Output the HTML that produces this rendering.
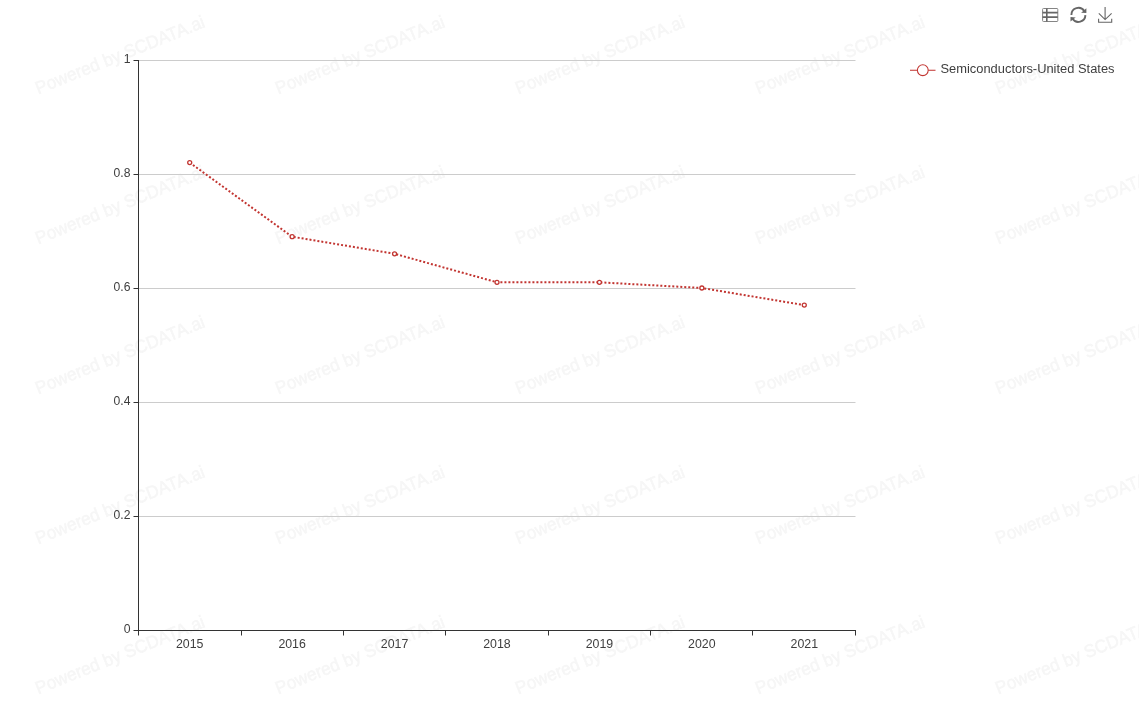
<!DOCTYPE html>
<html><head><meta charset="utf-8"><title>chart</title>
<style>
html,body{margin:0;padding:0;background:#fff;overflow:hidden}
body{width:1139px;height:710px;font-family:"Liberation Sans",sans-serif}
svg{display:block;font-family:"Liberation Sans",sans-serif}
</style></head><body>
<svg width="1139" height="710" viewBox="0 0 1139 710">
<rect width="1139" height="710" fill="#fff"/>
<g id="wm" text-anchor="middle" font-size="18" fill="#f6f6f6" stroke="#f6f6f6" stroke-width="0.55" opacity="0.99"><text transform="translate(-117.8,-89.5) rotate(-22)" textLength="181" lengthAdjust="spacingAndGlyphs">Powered by SCDATA.ai</text><text transform="translate(122.2,-89.5) rotate(-22)" textLength="181" lengthAdjust="spacingAndGlyphs">Powered by SCDATA.ai</text><text transform="translate(362.2,-89.5) rotate(-22)" textLength="181" lengthAdjust="spacingAndGlyphs">Powered by SCDATA.ai</text><text transform="translate(602.2,-89.5) rotate(-22)" textLength="181" lengthAdjust="spacingAndGlyphs">Powered by SCDATA.ai</text><text transform="translate(842.2,-89.5) rotate(-22)" textLength="181" lengthAdjust="spacingAndGlyphs">Powered by SCDATA.ai</text><text transform="translate(1082.2,-89.5) rotate(-22)" textLength="181" lengthAdjust="spacingAndGlyphs">Powered by SCDATA.ai</text><text transform="translate(1322.2,-89.5) rotate(-22)" textLength="181" lengthAdjust="spacingAndGlyphs">Powered by SCDATA.ai</text><text transform="translate(-117.8,60.5) rotate(-22)" textLength="181" lengthAdjust="spacingAndGlyphs">Powered by SCDATA.ai</text><text transform="translate(122.2,60.5) rotate(-22)" textLength="181" lengthAdjust="spacingAndGlyphs">Powered by SCDATA.ai</text><text transform="translate(362.2,60.5) rotate(-22)" textLength="181" lengthAdjust="spacingAndGlyphs">Powered by SCDATA.ai</text><text transform="translate(602.2,60.5) rotate(-22)" textLength="181" lengthAdjust="spacingAndGlyphs">Powered by SCDATA.ai</text><text transform="translate(842.2,60.5) rotate(-22)" textLength="181" lengthAdjust="spacingAndGlyphs">Powered by SCDATA.ai</text><text transform="translate(1082.2,60.5) rotate(-22)" textLength="181" lengthAdjust="spacingAndGlyphs">Powered by SCDATA.ai</text><text transform="translate(1322.2,60.5) rotate(-22)" textLength="181" lengthAdjust="spacingAndGlyphs">Powered by SCDATA.ai</text><text transform="translate(-117.8,210.5) rotate(-22)" textLength="181" lengthAdjust="spacingAndGlyphs">Powered by SCDATA.ai</text><text transform="translate(122.2,210.5) rotate(-22)" textLength="181" lengthAdjust="spacingAndGlyphs">Powered by SCDATA.ai</text><text transform="translate(362.2,210.5) rotate(-22)" textLength="181" lengthAdjust="spacingAndGlyphs">Powered by SCDATA.ai</text><text transform="translate(602.2,210.5) rotate(-22)" textLength="181" lengthAdjust="spacingAndGlyphs">Powered by SCDATA.ai</text><text transform="translate(842.2,210.5) rotate(-22)" textLength="181" lengthAdjust="spacingAndGlyphs">Powered by SCDATA.ai</text><text transform="translate(1082.2,210.5) rotate(-22)" textLength="181" lengthAdjust="spacingAndGlyphs">Powered by SCDATA.ai</text><text transform="translate(1322.2,210.5) rotate(-22)" textLength="181" lengthAdjust="spacingAndGlyphs">Powered by SCDATA.ai</text><text transform="translate(-117.8,360.5) rotate(-22)" textLength="181" lengthAdjust="spacingAndGlyphs">Powered by SCDATA.ai</text><text transform="translate(122.2,360.5) rotate(-22)" textLength="181" lengthAdjust="spacingAndGlyphs">Powered by SCDATA.ai</text><text transform="translate(362.2,360.5) rotate(-22)" textLength="181" lengthAdjust="spacingAndGlyphs">Powered by SCDATA.ai</text><text transform="translate(602.2,360.5) rotate(-22)" textLength="181" lengthAdjust="spacingAndGlyphs">Powered by SCDATA.ai</text><text transform="translate(842.2,360.5) rotate(-22)" textLength="181" lengthAdjust="spacingAndGlyphs">Powered by SCDATA.ai</text><text transform="translate(1082.2,360.5) rotate(-22)" textLength="181" lengthAdjust="spacingAndGlyphs">Powered by SCDATA.ai</text><text transform="translate(1322.2,360.5) rotate(-22)" textLength="181" lengthAdjust="spacingAndGlyphs">Powered by SCDATA.ai</text><text transform="translate(-117.8,510.5) rotate(-22)" textLength="181" lengthAdjust="spacingAndGlyphs">Powered by SCDATA.ai</text><text transform="translate(122.2,510.5) rotate(-22)" textLength="181" lengthAdjust="spacingAndGlyphs">Powered by SCDATA.ai</text><text transform="translate(362.2,510.5) rotate(-22)" textLength="181" lengthAdjust="spacingAndGlyphs">Powered by SCDATA.ai</text><text transform="translate(602.2,510.5) rotate(-22)" textLength="181" lengthAdjust="spacingAndGlyphs">Powered by SCDATA.ai</text><text transform="translate(842.2,510.5) rotate(-22)" textLength="181" lengthAdjust="spacingAndGlyphs">Powered by SCDATA.ai</text><text transform="translate(1082.2,510.5) rotate(-22)" textLength="181" lengthAdjust="spacingAndGlyphs">Powered by SCDATA.ai</text><text transform="translate(1322.2,510.5) rotate(-22)" textLength="181" lengthAdjust="spacingAndGlyphs">Powered by SCDATA.ai</text><text transform="translate(-117.8,660.5) rotate(-22)" textLength="181" lengthAdjust="spacingAndGlyphs">Powered by SCDATA.ai</text><text transform="translate(122.2,660.5) rotate(-22)" textLength="181" lengthAdjust="spacingAndGlyphs">Powered by SCDATA.ai</text><text transform="translate(362.2,660.5) rotate(-22)" textLength="181" lengthAdjust="spacingAndGlyphs">Powered by SCDATA.ai</text><text transform="translate(602.2,660.5) rotate(-22)" textLength="181" lengthAdjust="spacingAndGlyphs">Powered by SCDATA.ai</text><text transform="translate(842.2,660.5) rotate(-22)" textLength="181" lengthAdjust="spacingAndGlyphs">Powered by SCDATA.ai</text><text transform="translate(1082.2,660.5) rotate(-22)" textLength="181" lengthAdjust="spacingAndGlyphs">Powered by SCDATA.ai</text><text transform="translate(1322.2,660.5) rotate(-22)" textLength="181" lengthAdjust="spacingAndGlyphs">Powered by SCDATA.ai</text><text transform="translate(-117.8,810.5) rotate(-22)" textLength="181" lengthAdjust="spacingAndGlyphs">Powered by SCDATA.ai</text><text transform="translate(122.2,810.5) rotate(-22)" textLength="181" lengthAdjust="spacingAndGlyphs">Powered by SCDATA.ai</text><text transform="translate(362.2,810.5) rotate(-22)" textLength="181" lengthAdjust="spacingAndGlyphs">Powered by SCDATA.ai</text><text transform="translate(602.2,810.5) rotate(-22)" textLength="181" lengthAdjust="spacingAndGlyphs">Powered by SCDATA.ai</text><text transform="translate(842.2,810.5) rotate(-22)" textLength="181" lengthAdjust="spacingAndGlyphs">Powered by SCDATA.ai</text><text transform="translate(1082.2,810.5) rotate(-22)" textLength="181" lengthAdjust="spacingAndGlyphs">Powered by SCDATA.ai</text><text transform="translate(1322.2,810.5) rotate(-22)" textLength="181" lengthAdjust="spacingAndGlyphs">Powered by SCDATA.ai</text></g>
<line x1="138.5" y1="516.50" x2="855.5" y2="516.50" stroke="#ccc" stroke-width="1"/>
<line x1="138.5" y1="402.50" x2="855.5" y2="402.50" stroke="#ccc" stroke-width="1"/>
<line x1="138.5" y1="288.50" x2="855.5" y2="288.50" stroke="#ccc" stroke-width="1"/>
<line x1="138.5" y1="174.50" x2="855.5" y2="174.50" stroke="#ccc" stroke-width="1"/>
<line x1="138.5" y1="60.50" x2="855.5" y2="60.50" stroke="#ccc" stroke-width="1"/>
<line x1="138.5" y1="60.0" x2="138.5" y2="631.0" stroke="#333" stroke-width="1"/>
<line x1="138.0" y1="630.5" x2="856.0" y2="630.5" stroke="#333" stroke-width="1"/>
<line x1="133.5" y1="630.50" x2="138.5" y2="630.50" stroke="#333" stroke-width="1"/>
<line x1="133.5" y1="516.50" x2="138.5" y2="516.50" stroke="#333" stroke-width="1"/>
<line x1="133.5" y1="402.50" x2="138.5" y2="402.50" stroke="#333" stroke-width="1"/>
<line x1="133.5" y1="288.50" x2="138.5" y2="288.50" stroke="#333" stroke-width="1"/>
<line x1="133.5" y1="174.50" x2="138.5" y2="174.50" stroke="#333" stroke-width="1"/>
<line x1="133.5" y1="60.50" x2="138.5" y2="60.50" stroke="#333" stroke-width="1"/>
<line x1="138.5" y1="630.5" x2="138.5" y2="635.5" stroke="#333" stroke-width="1"/>
<line x1="241.5" y1="630.5" x2="241.5" y2="635.5" stroke="#333" stroke-width="1"/>
<line x1="343.5" y1="630.5" x2="343.5" y2="635.5" stroke="#333" stroke-width="1"/>
<line x1="445.5" y1="630.5" x2="445.5" y2="635.5" stroke="#333" stroke-width="1"/>
<line x1="548.5" y1="630.5" x2="548.5" y2="635.5" stroke="#333" stroke-width="1"/>
<line x1="650.5" y1="630.5" x2="650.5" y2="635.5" stroke="#333" stroke-width="1"/>
<line x1="752.5" y1="630.5" x2="752.5" y2="635.5" stroke="#333" stroke-width="1"/>
<line x1="855.5" y1="630.5" x2="855.5" y2="635.5" stroke="#333" stroke-width="1"/>
<g id="labels" font-size="13" fill="#3c3c3c" opacity="0.99"><text x="130.5" y="633.40" text-anchor="end" textLength="6.8" lengthAdjust="spacingAndGlyphs">0</text><text x="130.5" y="519.40" text-anchor="end" textLength="16.9" lengthAdjust="spacingAndGlyphs">0.2</text><text x="130.5" y="405.40" text-anchor="end" textLength="16.9" lengthAdjust="spacingAndGlyphs">0.4</text><text x="130.5" y="291.40" text-anchor="end" textLength="16.9" lengthAdjust="spacingAndGlyphs">0.6</text><text x="130.5" y="177.40" text-anchor="end" textLength="16.9" lengthAdjust="spacingAndGlyphs">0.8</text><text x="130.5" y="63.40" text-anchor="end" textLength="6.8" lengthAdjust="spacingAndGlyphs">1</text><text x="189.71" y="647.65" text-anchor="middle" textLength="27.5" lengthAdjust="spacingAndGlyphs">2015</text><text x="292.14" y="647.65" text-anchor="middle" textLength="27.5" lengthAdjust="spacingAndGlyphs">2016</text><text x="394.57" y="647.65" text-anchor="middle" textLength="27.5" lengthAdjust="spacingAndGlyphs">2017</text><text x="497.00" y="647.65" text-anchor="middle" textLength="27.5" lengthAdjust="spacingAndGlyphs">2018</text><text x="599.43" y="647.65" text-anchor="middle" textLength="27.5" lengthAdjust="spacingAndGlyphs">2019</text><text x="701.86" y="647.65" text-anchor="middle" textLength="27.5" lengthAdjust="spacingAndGlyphs">2020</text><text x="804.29" y="647.65" text-anchor="middle" textLength="27.5" lengthAdjust="spacingAndGlyphs">2021</text><text x="940.5" y="73.2" textLength="174" lengthAdjust="spacingAndGlyphs" font-size="12.5">Semiconductors-United States</text></g>
<polyline points="189.71,162.60 292.14,236.70 394.57,253.80 497.00,282.30 599.43,282.30 701.86,288.00 804.29,305.10" fill="none" stroke="#c23531" stroke-width="2" stroke-dasharray="2 2"/>
<circle cx="189.71" cy="162.60" r="2" fill="#fff" stroke="#c23531" stroke-width="1.3"/>
<circle cx="292.14" cy="236.70" r="2" fill="#fff" stroke="#c23531" stroke-width="1.3"/>
<circle cx="394.57" cy="253.80" r="2" fill="#fff" stroke="#c23531" stroke-width="1.3"/>
<circle cx="497.00" cy="282.30" r="2" fill="#fff" stroke="#c23531" stroke-width="1.3"/>
<circle cx="599.43" cy="282.30" r="2" fill="#fff" stroke="#c23531" stroke-width="1.3"/>
<circle cx="701.86" cy="288.00" r="2" fill="#fff" stroke="#c23531" stroke-width="1.3"/>
<circle cx="804.29" cy="305.10" r="2" fill="#fff" stroke="#c23531" stroke-width="1.3"/>
<line x1="910" y1="70.3" x2="935.5" y2="70.3" stroke="#c23531" stroke-width="1.2" opacity="0.85"/>
<circle cx="922.8" cy="70.2" r="5.4" fill="#fff" stroke="#c23531" stroke-width="1.05"/>
<g id="tb" fill="none" stroke="#666">
<g transform="translate(1042,8)"><rect x="0.6" y="0.5" width="15.2" height="13" rx="0.8" stroke-width="1" stroke="#858585"/><path d="M0.6 4.6 H15.8 M0.6 9.1 H15.8 M4.8 0.5 V13.5" stroke-width="1.6"/></g>
<g transform="translate(1070,7)" stroke-width="1.9"><path d="M1.4 7.9 A7 7 0 0 1 14.27 4.09"/><path d="M15.4 8.1 A7 7 0 0 1 2.53 11.71"/><path d="M16.4 1.3 V6.1 L11.1 5.7 Z" fill="#666" stroke="none"/><path d="M0.5 14.5 V10.1 L5.7 10.6 Z" fill="#666" stroke="none"/></g>
<g transform="translate(1098,7)" stroke-width="1.1"><path d="M7.1 0 V12.4 M0.8 6.3 L7.1 12.6 L13.6 6.3 M0.6 11.8 V15.2 H13.7 V11.8"/></g>
</g>
</svg>
</body></html>
